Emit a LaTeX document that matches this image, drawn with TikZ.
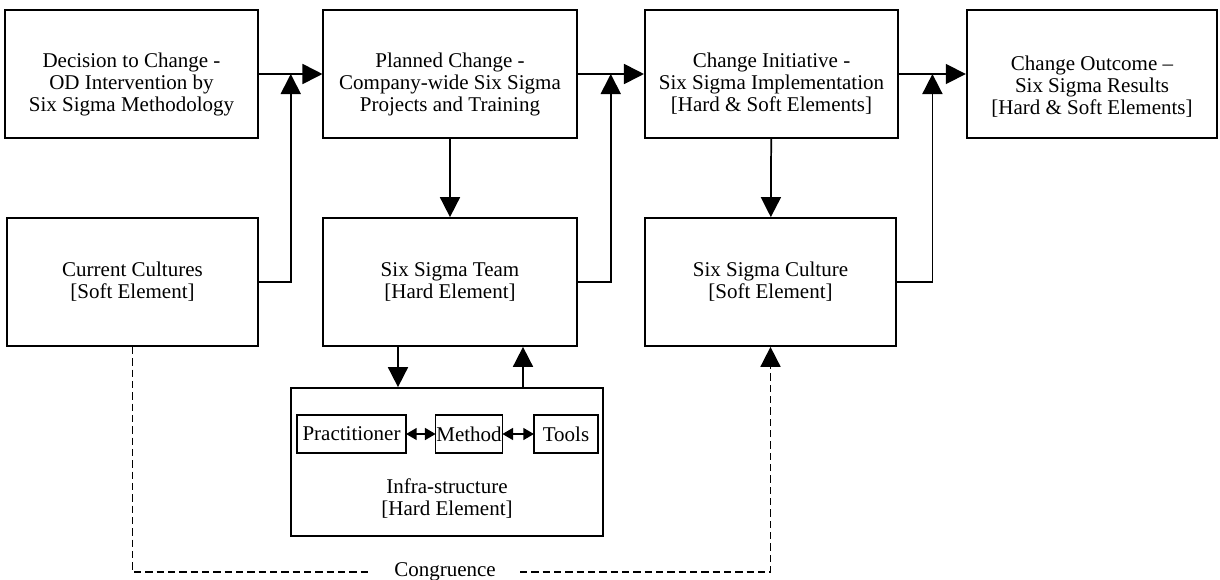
\documentclass[tikz,border=0pt]{standalone}
\usepackage{fontspec}
\setmainfont{Liberation Serif}
\usetikzlibrary{arrows.meta, calc, positioning}
\tikzstyle{blk}=[draw,line width=1.3pt,minimum width=190pt,minimum height=96pt,inner sep=0pt,align=center]
\tikzstyle{lbl}=[align=center,yshift=-7.5pt]
\tikzstyle{sml}=[draw,line width=1.1pt,minimum height=28.5pt,inner sep=0.5pt]
\tikzstyle{con}=[line width=1.3pt,-{Triangle[length=15pt,width=15pt]}]
\tikzstyle{lnk}=[line width=1.2pt,{Triangle[length=8pt,width=9pt]}-{Triangle[length=8pt,width=9pt]},shorten <=-0.5pt,shorten >=-0.5pt]
\tikzstyle{dsh}=[line width=1.3pt,dash pattern=on 5.5pt off 3pt]

\begin{document}
\begin{tikzpicture}[x=0.75pt,y=-0.75pt,font=\fontsize{15.75}{16.5}\selectfont]
\useasboundingbox (0,0) rectangle (1220,579);
% top row
\node[blk,label={[lbl]center:Decision to Change -\\OD Intervention by\\Six Sigma Methodology}] (dec) at (131.5,74) {};
\node[blk,label={[lbl]center:Planned Change -\\Company-wide Six Sigma\\Projects and Training}] (plan) at (450,74) {};
\node[blk,label={[lbl]center:Change Initiative -\\Six Sigma Implementation\\{[Hard \& Soft Elements]}}] (init) at (771.5,74) {};
\node[blk,minimum width=188pt,label={[lbl,yshift=-2pt]center:Change Outcome –\\Six Sigma Results\\{[Hard \& Soft Elements]}}] (outc) at (1092,74) {};
% second row
\node[blk,minimum width=188.5pt] (cur) at (132.5,282) {Current Cultures\\{[Soft Element]}};
\node[blk] (team) at (450,282) {Six Sigma Team\\{[Hard Element]}};
\node[blk,minimum width=188.5pt] (cult) at (770.5,282) {Six Sigma Culture\\{[Soft Element]}};
% infra-structure
\node[draw,line width=1.3pt,minimum width=234pt,minimum height=111pt] (infra) at (447,462) {};
\node[align=center] (infratxt) at (447,499) {Infra-structure\\{[Hard Element]}};
\node[sml,minimum width=81.75pt] (prac) at (351.5,434) {Practitioner};
\node[sml,minimum width=49.5pt] (meth) at (469,434) {Method};
\node[sml,minimum width=48pt] (tool) at (566,434) {Tools};
\node[inner xsep=18pt,inner ysep=0pt] (cong) at (445,572) {Congruence};
% junctions
\coordinate (j1) at ($(dec.east)!0.5!(plan.west)$);
\coordinate (j2) at ($(plan.east)!0.5!(init.west)$);
\coordinate (j3) at ($(init.east)!0.5!(outc.west)$);
\coordinate (dn) at (398,0);
\coordinate (up) at (523,0);
% connectors
\draw[con] (dec) -- (plan);
\draw[con] (plan) -- (init);
\draw[con] (init) -- (outc);
\draw[con] (cur) -| (j1);
\draw[con] (team) -| (j2);
\draw[con] (cult) -| (j3);
\draw[con] (plan) -- (team);
\draw[con] (init) -- (cult);
\draw[con] (dn |- team.south) -- (dn |- infra.north);
\draw[con] (up |- infra.north) -- (up |- team.south);
\draw[lnk] (prac) -- (meth);
\draw[lnk] (meth) -- (tool);
\draw[dsh] (cur) -- (cur |- cong) -- (cong);
\draw[dsh,-{Triangle[length=15pt,width=15pt]}] (cong) -- (cult |- cong) -- (cult);
\end{tikzpicture}
\end{document}
